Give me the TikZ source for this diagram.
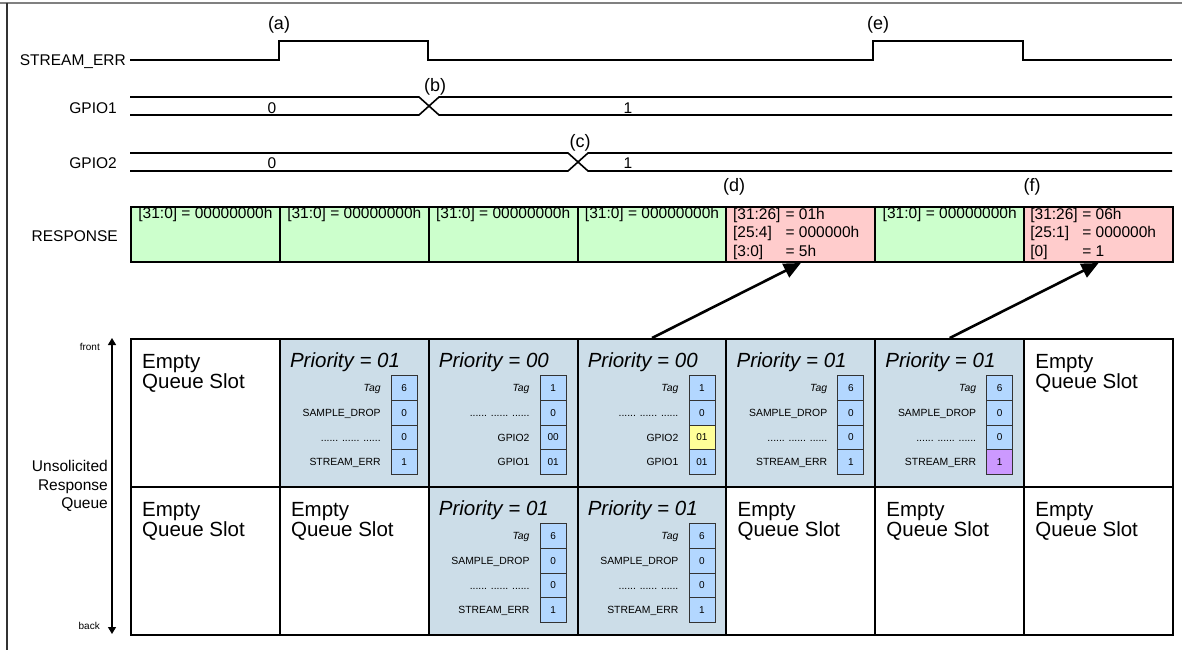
\documentclass[tikz,border=0pt]{standalone}
\usepackage{fontspec}
\setmainfont{Liberation Sans}
\usetikzlibrary{arrows.meta,calc}

\definecolor{cellblue}{HTML}{CCDDE8}
\definecolor{fieldblue}{HTML}{B3D7FF}
\definecolor{respgreen}{HTML}{CCFFCC}
\definecolor{resppink}{HTML}{FFCCCC}
\definecolor{fieldyellow}{HTML}{FFFF99}
\definecolor{fieldpurple}{HTML}{CC99FF}
\definecolor{framegray}{HTML}{808080}

\tikzset{
  wave/.style={line width=1.6pt, black},
  lbl/.style={font=\fontsize{15.5}{18.5}\selectfont, inner sep=0pt},
  evlbl/.style={font=\fontsize{18}{20}\selectfont, inner sep=0pt},
  rtxt/.style={font=\fontsize{15.5}{18.5}\selectfont, inner sep=0pt},
  resp/.style={draw, line width=2pt, minimum width=148.86pt, minimum height=55pt, inner sep=0pt, anchor=north west},
  qcell/.style={draw, line width=2pt, minimum width=148.86pt, minimum height=148pt, inner sep=0pt, anchor=north west},
  big/.style={font=\fontsize{20.5}{20}\selectfont, inner sep=0pt, anchor=base west},
  prio/.style={font=\fontsize{20.5}{20}\selectfont\itshape, inner sep=0pt, anchor=base west},
  fld/.style={draw=black!80, line width=0.9pt, minimum width=26pt, minimum height=24.75pt, inner sep=0pt, font=\fontsize{10}{10}\selectfont},
  fname/.style={font=\fontsize{10.4}{10}\selectfont, inner sep=0pt, anchor=base east},
  small/.style={font=\fontsize{10}{10}\selectfont, inner sep=0pt, anchor=base east},
  bigarrow/.style={line width=2.6pt, -{Triangle[length=17pt,width=15pt]}},
  qarrow/.style={line width=1.2pt, {Triangle[length=7pt,width=8pt]}-{Triangle[length=7pt,width=8pt]}},
}

\newcommand{\fdots}{...... ...... ......}
\newcommand{\emptyslot}[1]{%
  \node[big] (#1a) at ($(#1.north west)+(12,30.5)$) {Empty};
  \node[big] (#1b) at ($(#1.north west)+(12,50)$) {Queue Slot};
}
\newcommand{\prioslot}[3]{%
  \node[prio] (#1p) at ($(#1.north west)+(11,29.5)$) {Priority = #2};
  \foreach \fl/\fv/\fc [count=\k] in {#3} {
    \node[fld, fill=\fc, anchor=north east] (#1f\k) at ($(#1.north east)+(-12,{37+24.75*(\k-1)})$) {\fv};
    \node[fname] (#1n\k) at ($(#1f\k.west)+(-10,3.7)$) {\fl};
  }
}

\begin{document}
\begin{tikzpicture}[x=1pt,y=-1pt]
\useasboundingbox (0,0) rectangle (1182,650);

% frame
\draw[framegray, line width=2pt] (0,3) -- (1182,3);
\draw[black!80, line width=1.3pt] (7,3) -- (7,650);

% signal names
\node[lbl, anchor=base east] (nse) at (126,65.5) {STREAM\_ERR};
\node[lbl, anchor=base east] (ng1) at (117,113.5) {GPIO1};
\node[lbl, anchor=base east] (ng2) at (117,168.5) {GPIO2};
\node[lbl, anchor=base east] (nrs) at (118,241.5) {RESPONSE};

% waveforms
\draw[wave] (130,60) -| (279,41) -| (428,60) -| (873,41) -| (1023,60) -- (1172,60);
\draw[wave] (130,97) -- (419,97) -- (439,115) -- (1172,115);
\draw[wave] (130,115) -- (419,115) -- (439,97) -- (1172,97);
\draw[wave] (130,153) -- (568,153) -- (588,171) -- (1172,171);
\draw[wave] (130,171) -- (568,171) -- (588,153) -- (1172,153);

\node[lbl, anchor=base] (g1a) at (272,113.5) {0};
\node[lbl, anchor=base] (g1b) at (628,113.5) {1};
\node[lbl, anchor=base] (g2a) at (272,168.5) {0};
\node[lbl, anchor=base] (g2b) at (628,168.5) {1};

% event labels
\node[evlbl] (ea) at (279,25) {(a)};
\node[evlbl] (eb) at (435,87) {(b)};
\node[evlbl] (ec) at (580,143) {(c)};
\node[evlbl] (ed) at (734,187) {(d)};
\node[evlbl] (ee) at (878,25) {(e)};
\node[evlbl] (ef) at (1032,187) {(f)};

% response boxes
\foreach \i/\c in {1/respgreen,2/respgreen,3/respgreen,4/respgreen,5/resppink,6/respgreen,7/resppink}
  \node[resp, fill=\c] (r\i) at ({130+148.857*(\i-1)},206) {};
\foreach \i in {1,2,3,4,6}
  \node[rtxt, anchor=base] (rt\i) at ($(r\i.north)+(0,12.5)$) {[31:0] = 00000000h};
\node[rtxt, anchor=base west] (rt5) at ($(r5.north west)+(7.5,13)$)
  {\begin{tabular}[t]{@{}p{52.5pt}@{}l@{}}{[31:26]} & = 01h\\ {[25:4]} & = 000000h\\ {[3:0]} & = 5h\end{tabular}};
\node[rtxt, anchor=base west] (rt7) at ($(r7.north west)+(7,13)$)
  {\begin{tabular}[t]{@{}p{52pt}@{}l@{}}{[31:26]} & = 06h\\ {[25:1]} & = 000000h\\ {[0]} & = 1\end{tabular}};

% queue cells
\foreach \i/\j/\c in {1/1/white,2/1/cellblue,3/1/cellblue,4/1/cellblue,5/1/cellblue,6/1/cellblue,7/1/white,
                      1/2/white,2/2/white,3/2/cellblue,4/2/cellblue,5/2/white,6/2/white,7/2/white}
  \node[qcell, fill=\c] (q\i\j) at ({130+148.857*(\i-1)},{338+148*(\j-1)}) {};

\emptyslot{q11}
\emptyslot{q71}
\emptyslot{q12}
\emptyslot{q22}
\emptyslot{q52}
\emptyslot{q62}
\emptyslot{q72}

\prioslot{q21}{01}{\textit{Tag}/6/fieldblue, SAMPLE\_DROP/0/fieldblue, \fdots/0/fieldblue, STREAM\_ERR/1/fieldblue}
\prioslot{q31}{00}{\textit{Tag}/1/fieldblue, \fdots/0/fieldblue, GPIO2/00/fieldblue, GPIO1/01/fieldblue}
\prioslot{q41}{00}{\textit{Tag}/1/fieldblue, \fdots/0/fieldblue, GPIO2/01/fieldyellow, GPIO1/01/fieldblue}
\prioslot{q51}{01}{\textit{Tag}/6/fieldblue, SAMPLE\_DROP/0/fieldblue, \fdots/0/fieldblue, STREAM\_ERR/1/fieldblue}
\prioslot{q61}{01}{\textit{Tag}/6/fieldblue, SAMPLE\_DROP/0/fieldblue, \fdots/0/fieldblue, STREAM\_ERR/1/fieldpurple}
\prioslot{q32}{01}{\textit{Tag}/6/fieldblue, SAMPLE\_DROP/0/fieldblue, \fdots/0/fieldblue, STREAM\_ERR/1/fieldblue}
\prioslot{q42}{01}{\textit{Tag}/6/fieldblue, SAMPLE\_DROP/0/fieldblue, \fdots/0/fieldblue, STREAM\_ERR/1/fieldblue}

% queue direction arrow and labels
\coordinate (qtop) at (112,338);
\coordinate (qbot) at (112,634);
\draw[qarrow] (qtop) -- (qbot);
\node[small] (lfront) at (100,350.5) {front};
\node[small] (lback) at (100,629) {back};
\node[lbl, anchor=east, align=right] (lqueue) at (108,486) {Unsolicited\\Response\\Queue};

% arrows from queue to response
\draw[bigarrow] (q41.north) -- (r5.south);
\draw[bigarrow] (q61.north) -- (r7.south);
\end{tikzpicture}
\end{document}
